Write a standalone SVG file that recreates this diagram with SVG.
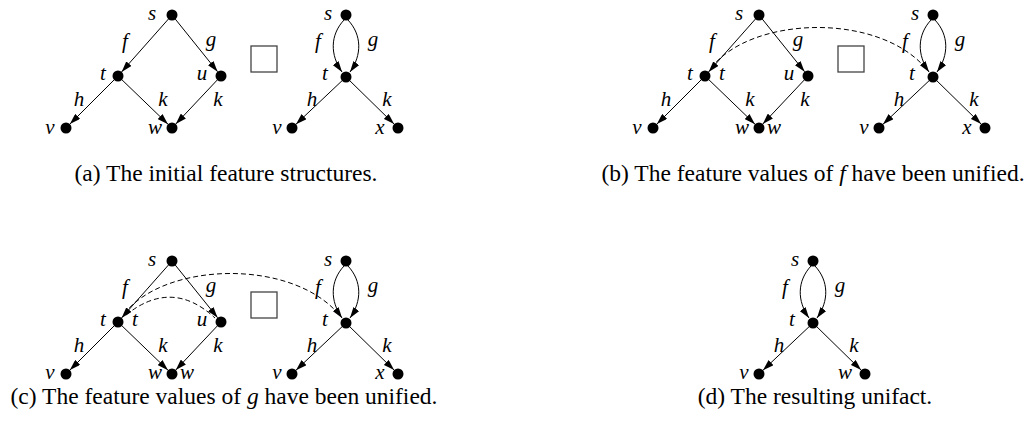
<svg xmlns="http://www.w3.org/2000/svg" width="1035" height="434" viewBox="0 0 1035 434">
  <style>
    .edge { fill: none; stroke: #000; stroke-width: 1; marker-end: url(#ah); }
    .uni { fill: none; stroke: #000; stroke-width: 1; stroke-dasharray: 5 3; }
    .dot { fill: #000; }
    .lbl { font-family: "Liberation Serif", "Times New Roman", serif; font-style: italic; font-size: 21px; text-anchor: middle; fill: #000; }
    .cap { font-family: "Liberation Serif", "Times New Roman", serif; font-size: 23.5px; text-anchor: middle; fill: #000; }
    .box { fill: #fff; stroke: #444; stroke-width: 1.3; }
  </style>
  <defs>
    <marker id="ah" viewBox="0 0 11 7" refX="11" refY="3.5" markerWidth="11" markerHeight="7" orient="auto" markerUnits="userSpaceOnUse">
      <path d="M0,0 L11,3.5 L0,7 z" fill="#000"/>
    </marker>
    <!-- shared edge sets, drawn in panel-local coordinates -->
    <g id="left-edges">
      <path class="edge" d="M172,15 L121.6,71.9"/>
      <path class="edge" d="M172,15 L217.6,71.7"/>
      <path class="edge" d="M118,76 L69.9,124.1"/>
      <path class="edge" d="M118,76 L168,124.2"/>
      <path class="edge" d="M221,76 L175.8,124"/>
    </g>
    <g id="right-edges">
      <path class="edge" d="M344,20 C330,35 330,55 342,72"/>
      <path class="edge" d="M348,20 C362,35 362,55 350,72"/>
      <path class="edge" d="M346,77 L296,124.2"/>
      <path class="edge" d="M346,77 L394.1,124.1"/>
    </g>
  </defs>

  <!-- connectors -->
  <g id="connectors">
    <use href="#left-edges"/>
    <use href="#right-edges"/>
    <g transform="translate(587,0)">
      <use href="#left-edges"/>
      <use href="#right-edges"/>
      <path class="uni" d="M124,68 C165,15 295,12 341,71"/>
    </g>
    <g transform="translate(0,246)">
      <use href="#left-edges"/>
      <use href="#right-edges"/>
      <path class="uni" d="M124,68 C165,15 295,12 341,71"/>
      <path class="uni" d="M126,69 Q172,32 215,72"/>
    </g>
    <g transform="translate(467,246)">
      <use href="#right-edges"/>
    </g>
  </g>

  <!-- panel (a) -->
  <g id="panel-a">
    <g id="a-s1"><circle class="dot" cx="172" cy="15" r="5.5"/><text class="lbl" x="152" y="20">s</text></g>
    <g id="a-t1"><circle class="dot" cx="118" cy="76" r="5.5"/><text class="lbl" x="103" y="80">t</text></g>
    <g id="a-u1"><circle class="dot" cx="221" cy="76" r="5.5"/><text class="lbl" x="202" y="80">u</text></g>
    <g id="a-v1"><circle class="dot" cx="66" cy="128" r="5.5"/><text class="lbl" x="50" y="134">v</text></g>
    <g id="a-w1"><circle class="dot" cx="172" cy="128" r="5.5"/><text class="lbl" x="155" y="134">w</text></g>
    <g id="a-labels">
      <text class="lbl" x="125" y="48">f</text><text class="lbl" x="211" y="46">g</text>
      <text class="lbl" x="79" y="106">h</text><text class="lbl" x="163" y="106">k</text><text class="lbl" x="218" y="106">k</text>
    </g>
    <rect id="a-box" class="box" x="251" y="46" width="26" height="26"/>
    <g id="a-s2"><circle class="dot" cx="346" cy="15" r="5.5"/><text class="lbl" x="328" y="20">s</text></g>
    <g id="a-t2"><circle class="dot" cx="346" cy="77" r="5.5"/><text class="lbl" x="325" y="80">t</text></g>
    <g id="a-v2"><circle class="dot" cx="292" cy="128" r="5.5"/><text class="lbl" x="277" y="134">v</text></g>
    <g id="a-x2"><circle class="dot" cx="398" cy="128" r="5.5"/><text class="lbl" x="380" y="134">x</text></g>
    <g id="a-labels2">
      <text class="lbl" x="318" y="48">f</text><text class="lbl" x="373" y="46">g</text>
      <text class="lbl" x="312" y="106">h</text><text class="lbl" x="387" y="106">k</text>
    </g>
    <text class="cap" x="226" y="181">(a) The initial feature structures.</text>
  </g>

  <!-- panel (b) -->
  <g id="panel-b" transform="translate(587,0)">
    <g id="b-s1"><circle class="dot" cx="172" cy="15" r="5.5"/><text class="lbl" x="152" y="20">s</text></g>
    <g id="b-t1"><circle class="dot" cx="118" cy="76" r="5.5"/><text class="lbl" x="103" y="80">t</text><text class="lbl" x="135" y="80">t</text></g>
    <g id="b-u1"><circle class="dot" cx="221" cy="76" r="5.5"/><text class="lbl" x="202" y="80">u</text></g>
    <g id="b-v1"><circle class="dot" cx="66" cy="128" r="5.5"/><text class="lbl" x="50" y="134">v</text></g>
    <g id="b-w1"><circle class="dot" cx="172" cy="128" r="5.5"/><text class="lbl" x="155" y="134">w</text><text class="lbl" x="187" y="134">w</text></g>
    <g id="b-labels">
      <text class="lbl" x="125" y="48">f</text><text class="lbl" x="211" y="46">g</text>
      <text class="lbl" x="79" y="106">h</text><text class="lbl" x="163" y="106">k</text><text class="lbl" x="218" y="106">k</text>
    </g>
    <rect id="b-box" class="box" x="251" y="46" width="26" height="26"/>
    <g id="b-s2"><circle class="dot" cx="346" cy="15" r="5.5"/><text class="lbl" x="328" y="20">s</text></g>
    <g id="b-t2"><circle class="dot" cx="346" cy="77" r="5.5"/><text class="lbl" x="325" y="80">t</text></g>
    <g id="b-v2"><circle class="dot" cx="292" cy="128" r="5.5"/><text class="lbl" x="277" y="134">v</text></g>
    <g id="b-x2"><circle class="dot" cx="398" cy="128" r="5.5"/><text class="lbl" x="380" y="134">x</text></g>
    <g id="b-labels2">
      <text class="lbl" x="318" y="48">f</text><text class="lbl" x="373" y="46">g</text>
      <text class="lbl" x="312" y="106">h</text><text class="lbl" x="387" y="106">k</text>
    </g>
    <text class="cap" x="226" y="181">(b) The feature values of <tspan font-style="italic">f</tspan> have been unified.</text>
  </g>

  <!-- panel (c) -->
  <g id="panel-c" transform="translate(0,246)">
    <g id="c-s1"><circle class="dot" cx="172" cy="15" r="5.5"/><text class="lbl" x="152" y="20">s</text></g>
    <g id="c-t1"><circle class="dot" cx="118" cy="76" r="5.5"/><text class="lbl" x="103" y="80">t</text><text class="lbl" x="135" y="80">t</text></g>
    <g id="c-u1"><circle class="dot" cx="221" cy="76" r="5.5"/><text class="lbl" x="202" y="80">u</text></g>
    <g id="c-v1"><circle class="dot" cx="66" cy="128" r="5.5"/><text class="lbl" x="50" y="133">v</text></g>
    <g id="c-w1"><circle class="dot" cx="172" cy="128" r="5.5"/><text class="lbl" x="155" y="133">w</text><text class="lbl" x="187" y="133">w</text></g>
    <g id="c-labels">
      <text class="lbl" x="125" y="48">f</text><text class="lbl" x="211" y="46">g</text>
      <text class="lbl" x="79" y="106">h</text><text class="lbl" x="163" y="106">k</text><text class="lbl" x="218" y="106">k</text>
    </g>
    <rect id="c-box" class="box" x="251" y="46" width="26" height="26"/>
    <g id="c-s2"><circle class="dot" cx="346" cy="15" r="5.5"/><text class="lbl" x="328" y="20">s</text></g>
    <g id="c-t2"><circle class="dot" cx="346" cy="77" r="5.5"/><text class="lbl" x="325" y="80">t</text></g>
    <g id="c-v2"><circle class="dot" cx="292" cy="128" r="5.5"/><text class="lbl" x="277" y="133">v</text></g>
    <g id="c-x2"><circle class="dot" cx="398" cy="128" r="5.5"/><text class="lbl" x="380" y="133">x</text></g>
    <g id="c-labels2">
      <text class="lbl" x="318" y="48">f</text><text class="lbl" x="373" y="46">g</text>
      <text class="lbl" x="312" y="106">h</text><text class="lbl" x="387" y="106">k</text>
    </g>
    <text class="cap" x="224" y="158">(c) The feature values of <tspan font-style="italic">g</tspan> have been unified.</text>
  </g>

  <!-- panel (d) -->
  <g id="panel-d" transform="translate(467,246)">
    <g id="d-s"><circle class="dot" cx="346" cy="15" r="5.5"/><text class="lbl" x="328" y="20">s</text></g>
    <g id="d-t"><circle class="dot" cx="346" cy="77" r="5.5"/><text class="lbl" x="325" y="80">t</text></g>
    <g id="d-v"><circle class="dot" cx="292" cy="128" r="5.5"/><text class="lbl" x="277" y="133">v</text></g>
    <g id="d-w"><circle class="dot" cx="398" cy="128" r="5.5"/><text class="lbl" x="378" y="133">w</text></g>
    <g id="d-labels">
      <text class="lbl" x="318" y="48">f</text><text class="lbl" x="373" y="46">g</text>
      <text class="lbl" x="312" y="106">h</text><text class="lbl" x="387" y="106">k</text>
    </g>
    <text class="cap" x="348" y="158">(d) The resulting unifact.</text>
  </g>
</svg>
